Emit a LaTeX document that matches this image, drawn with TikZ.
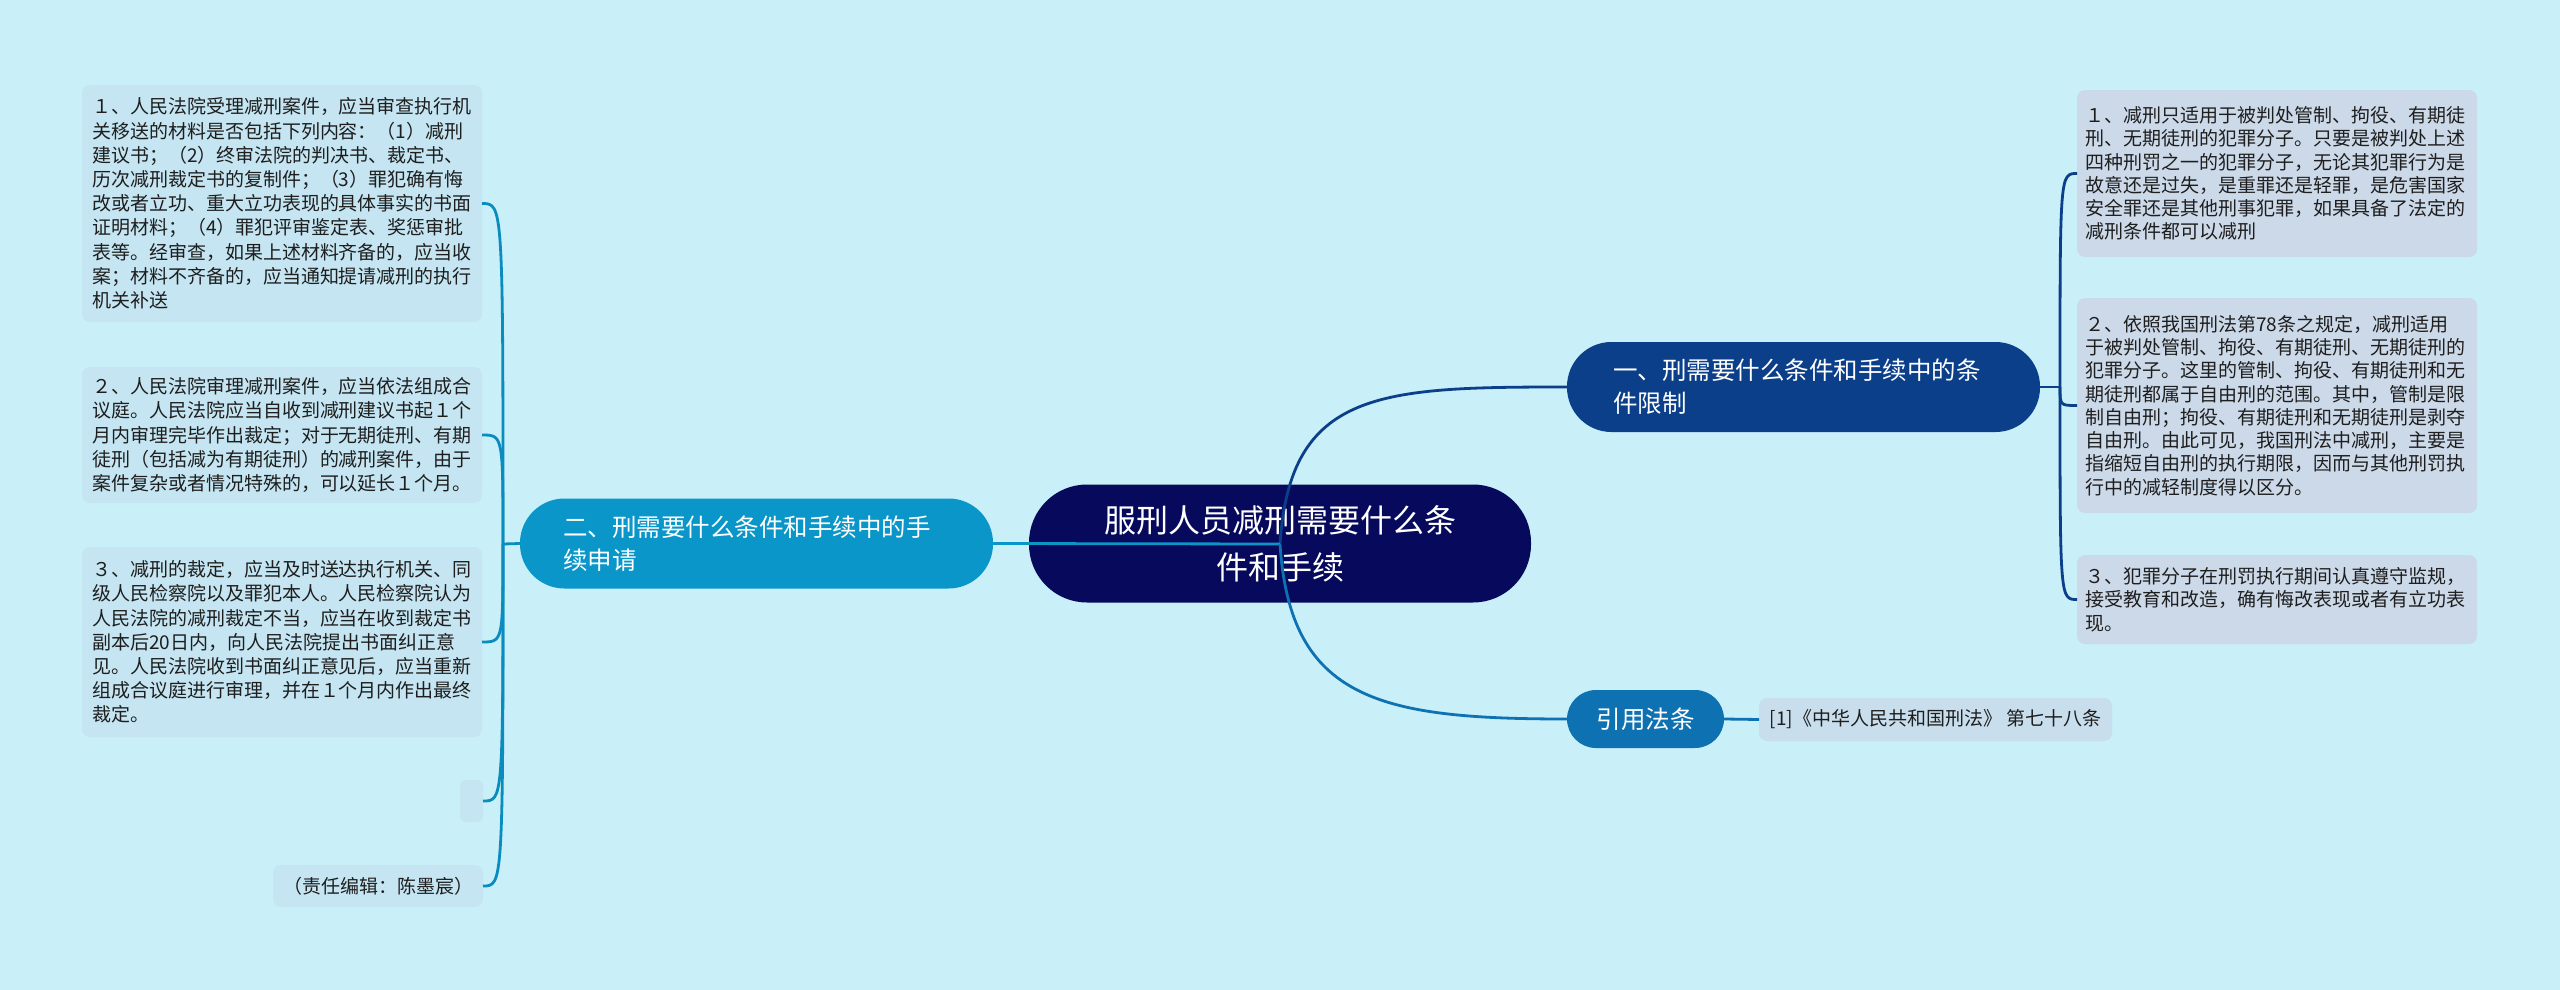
\documentclass[tikz,border=0pt]{standalone}
\usepackage{fontspec}
\setmainfont{Noto Sans CJK SC}
\definecolor{bg}{RGB}{201,239,248}
\definecolor{rootc}{RGB}{6,9,92}
\definecolor{bonec}{RGB}{11,63,138}
\definecolor{btwoc}{RGB}{10,150,200}
\definecolor{citec}{RGB}{14,114,178}
\definecolor{leafRc}{RGB}{204,217,233}
\definecolor{leafLc}{RGB}{196,229,241}
\definecolor{citeboxc}{RGB}{200,222,236}
\definecolor{lineTwo}{RGB}{10,140,190}
\definecolor{txt}{RGB}{30,30,30}
\begin{document}
\begin{tikzpicture}[x=1pt,y=-1pt,
  every node/.style={inner sep=0pt, outer sep=0pt},
  rootbox/.style={rectangle, rounded corners=58pt, fill=rootc, text=white, align=center,
    minimum width=502pt, minimum height=118pt, font=\fontsize{32}{47}\selectfont},
  branchbox/.style={rectangle, rounded corners=44.5pt, text=white, align=left,
    minimum height=90pt, font=\fontsize{24.5}{33}\selectfont},
  leafL/.style={rectangle, rounded corners=8pt, fill=leafLc, text=txt, anchor=north west, align=left,
    inner xsep=10pt, text width=380pt, minimum width=400pt, font=\fontsize{19}{24.2}\selectfont},
  leafR/.style={rectangle, rounded corners=8pt, fill=leafRc, text=txt, anchor=north west, align=left,
    inner xsep=8pt, text width=384pt, minimum width=400pt, font=\fontsize{19}{23.3}\selectfont},
  conn/.style={line width=2.8pt},
]
\useasboundingbox (0,0) rectangle (2560,990);
\fill[bg] (0,0) rectangle (2560,990);

% root
\node[rootbox] (root) at (1280,543.5) {服刑人员减刑需要什么条\\件和手续};

% branches
\node[branchbox, fill=bonec, inner xsep=46pt, text width=381pt, minimum width=473pt] (b1) at (1803.5,387) {一、刑需要什么条件和手续中的条\\件限制};
\node[branchbox, fill=btwoc, inner xsep=43pt, text width=387pt, minimum width=473pt] (b2) at (756.5,543.5) {二、刑需要什么条件和手续中的手\\续申请};
\node[rectangle, rounded corners=29pt, fill=citec, text=white, minimum width=157pt, minimum height=58pt,
  font=\fontsize{24.5}{30}\selectfont] (b3) at (1645.5,719) {引用法条};

% citation leaf
\node[rectangle, rounded corners=8pt, fill=citeboxc, text=txt, minimum width=353pt, minimum height=43pt,
  font=\fontsize{19}{23}\selectfont] (cite) at (1935.5,719.5) {[1]《中华人民共和国刑法》 第七十八条};

% right leaves
\node[leafR, minimum height=167pt] (R1) at (2077,90) {１、减刑只适用于被判处管制、拘役、有期徒\\刑、无期徒刑的犯罪分子。只要是被判处上述\\四种刑罚之一的犯罪分子，无论其犯罪行为是\\故意还是过失，是重罪还是轻罪，是危害国家\\安全罪还是其他刑事犯罪，如果具备了法定的\\减刑条件都可以减刑};
\node[leafR, minimum height=215pt] (R2) at (2077,298) {２、依照我国刑法第78条之规定，减刑适用\\于被判处管制、拘役、有期徒刑、无期徒刑的\\犯罪分子。这里的管制、拘役、有期徒刑和无\\期徒刑都属于自由刑的范围。其中，管制是限\\制自由刑；拘役、有期徒刑和无期徒刑是剥夺\\自由刑。由此可见，我国刑法中减刑，主要是\\指缩短自由刑的执行期限，因而与其他刑罚执\\行中的减轻制度得以区分。};
\node[leafR, minimum height=89pt] (R3) at (2077,555) {３、犯罪分子在刑罚执行期间认真遵守监规，\\接受教育和改造，确有悔改表现或者有立功表\\现。};

% left leaves
\node[leafL, minimum height=237pt] (L1) at (82,85) {１、人民法院受理减刑案件，应当审查执行机\\关移送的材料是否包括下列内容：（1）减刑\\建议书；（2）终审法院的判决书、裁定书、\\历次减刑裁定书的复制件；（3）罪犯确有悔\\改或者立功、重大立功表现的具体事实的书面\\证明材料；（4）罪犯评审鉴定表、奖惩审批\\表等。经审查，如果上述材料齐备的，应当收\\案；材料不齐备的，应当通知提请减刑的执行\\机关补送};
\node[leafL, minimum height=136pt] (L2) at (82,367) {２、人民法院审理减刑案件，应当依法组成合\\议庭。人民法院应当自收到减刑建议书起１个\\月内审理完毕作出裁定；对于无期徒刑、有期\\徒刑（包括减为有期徒刑）的减刑案件，由于\\案件复杂或者情况特殊的，可以延长１个月。};
\node[leafL, minimum height=190pt] (L3) at (82,547) {３、减刑的裁定，应当及时送达执行机关、同\\级人民检察院以及罪犯本人。人民检察院认为\\人民法院的减刑裁定不当，应当在收到裁定书\\副本后20日内，向人民法院提出书面纠正意\\见。人民法院收到书面纠正意见后，应当重新\\组成合议庭进行审理，并在１个月内作出最终\\裁定。};
\node[rectangle, rounded corners=6pt, fill=leafLc, anchor=north west, minimum width=23pt, minimum height=42pt] (L4) at (460,780) {};
\node[rectangle, rounded corners=8pt, fill=leafLc, text=txt, anchor=north west, minimum width=210pt, minimum height=42pt,
  font=\fontsize{19}{24}\selectfont] (L5) at (273,865) {（责任编辑：陈墨宸）};

% junctions
\coordinate (c0) at (1280,544);
\coordinate (jR) at (2060,387);
\coordinate (jL) at (503,544);

% root connectors (drawn over root)
\draw[conn, bonec] (c0) .. controls (1290,390) and (1380,387) .. (b1.west);
\draw[conn, btwoc] (c0) -- (b2.east);
\draw[conn, citec] (c0) .. controls (1290,700) and (1380,719) .. (b3.west);
\draw[conn, citec] (b3.east) -- (cite.west);

% right connectors
\draw[conn, bonec] (b1.east) -- (jR);
\foreach \n in {R1,R2,R3}{
  \draw[conn, bonec] (jR) .. controls (jR |- \n.west) and (jR |- \n.west) .. (\n.west);
}

% left connectors
\draw[conn, lineTwo] (b2.west) -- (jL);
\foreach \n in {L1,L2,L3,L4,L5}{
  \draw[conn, lineTwo] (jL) .. controls (jL |- \n.east) and (jL |- \n.east) .. (\n.east);
}
\end{tikzpicture}
\end{document}
